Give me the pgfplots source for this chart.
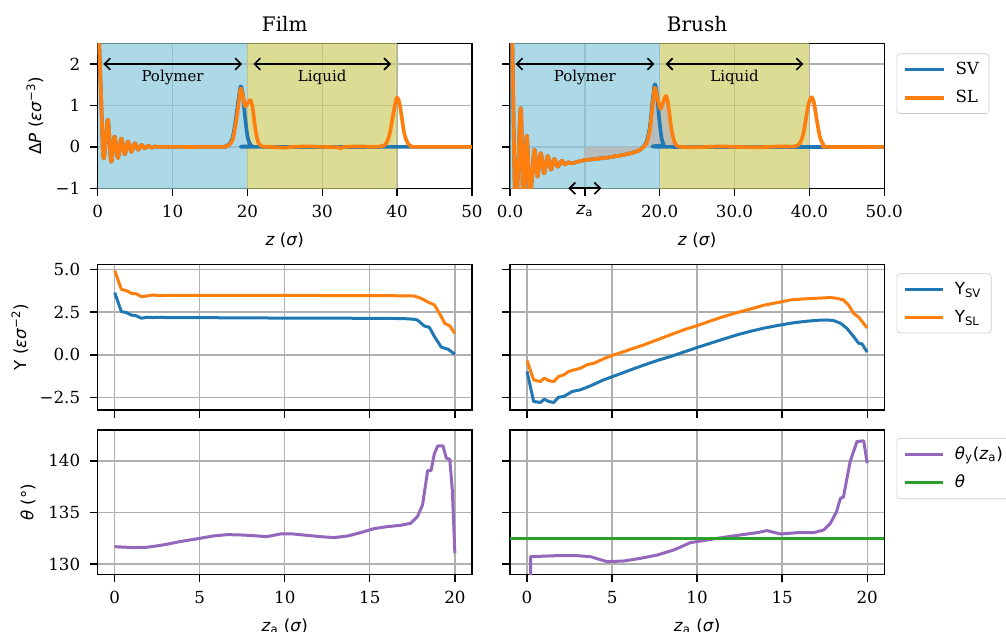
\documentclass[border=0pt]{standalone}
\usepackage{fontspec}
\setmainfont{DejaVu Serif}
\newfontfamily\sans{DejaVu Sans}
\usepackage{pgfplots}
\pgfplotsset{compat=1.18}
\usetikzlibrary{arrows.meta}
\definecolor{tblue}{HTML}{1F77B4}
\definecolor{torange}{HTML}{FF7F0E}
\definecolor{tpurple}{HTML}{9467BD}
\definecolor{tgreen}{HTML}{2CA02C}
\definecolor{lblue}{RGB}{138,199,219}
\definecolor{olivefill}{RGB}{205,205,104}
\definecolor{greyfill}{RGB}{185,185,185}
\definecolor{gridc}{HTML}{B0B0B0}
\definecolor{legc}{HTML}{CCCCCC}
\tikzset{arr/.style={{Straight Barb[length=3.5pt,width=7pt]}-{Straight Barb[length=3.5pt,width=7pt]}, line width=1pt, black}}
\pgfplotsset{
  base/.style={
    scale only axis, width=224.5pt,
    axis line style={line width=0.8pt},
    every tick/.style={black, line width=0.8pt},
    major tick length=4.6pt,
    tick align=outside, tick pos=left,
    grid=major, major grid style={color=gridc, line width=0.8pt},
    ticklabel style={font=\fontsize{10}{12}\selectfont},
    yticklabel style={xshift=-2.4pt},
    xticklabel style={yshift=-2pt},
    label style={font=\fontsize{10}{12}\selectfont},
    xlabel shift=2pt,
    title style={font=\fontsize{12}{14}\selectfont, anchor=base, yshift=1pt},
    /pgf/number format/assume math mode=true,
    clip mode=individual,
    every axis plot/.append style={line join=round},
    legend cell align=left,
    legend style={anchor=north west, draw=legc, rounded corners=2pt, fill=white,
      font=\fontsize{10}{12}\selectfont, row sep=4pt, inner xsep=4pt, inner ysep=3pt},
    legend image code/.code={\draw[#1] (0pt,0pt) -- (23pt,0pt); \path (27pt,0pt);},
  },
  bgfill/.style={fill=#1, fill opacity=0.7, draw=none, forget plot},
  ylab/.style={ylabel style={at={(axis description cs:#1,0.5)}, anchor=center}},
}
\begin{document}
\begin{tikzpicture}
\path[use as bounding box] (0,0) rectangle (603.6pt,378.6pt);
% ---------------- Film top
\begin{axis}[base, at={(58.62pt,265.62pt)}, anchor=south west, height=87pt,
  xmin=0, xmax=50, ymin=-1, ymax=2.5,
  xtick={0,10,20,30,40,50},
  ytick={-1,0,1,2}, yticklabels={−1,0,1,2},
  title={Film},
  xlabel={{\sans\textit{z} (\textit{σ})}},
  ylabel={{\sans Δ\textit{P} (\textit{εσ}\textsuperscript{−3})}}, ylab=-0.168,
]
\addplot[bgfill=lblue] coordinates {(0,-2) (0,3) (20,3) (20,-2)};
\addplot[bgfill=olivefill] coordinates {(20,-2) (20,3) (40,3) (40,-2)};
\addplot[tblue, line width=2.2pt, smooth, tension=0.5] coordinates {
(0,5) (0.1,3.2) (0.45,1.2) (0.8,-0.28) (1.35,0.66) (1.8,-0.36) (2.25,0.25) (2.7,-0.27) (3.15,0.2) (3.6,-0.18) (4.05,0.13) (4.5,-0.12) (4.95,0.09) (5.4,-0.07) (5.85,0.05) (6.3,-0.04) (6.75,0.03) (7.2,-0.02) (7.7,0.01) (8.2,0)
(16.5,0) (17,0.01) (17.5,0.05) (18,0.2) (18.4,0.6) (18.8,1.12) (19.1,1.46) (19.4,1.25) (19.7,0.7) (20.0,0.28) (20.3,0.08) (20.6,0.02) (21,0) (50,0)};
\addplot[torange, line width=2.2pt, smooth, tension=0.5] coordinates {
(0,5) (0.1,3.2) (0.45,1.2) (0.8,-0.28) (1.35,0.66) (1.8,-0.36) (2.25,0.25) (2.7,-0.27) (3.15,0.2) (3.6,-0.18) (4.05,0.13) (4.5,-0.12) (4.95,0.09) (5.4,-0.07) (5.85,0.05) (6.3,-0.04) (6.75,0.03) (7.2,-0.02) (7.7,0.01) (8.2,0)
(16.5,0) (17,0.01) (17.5,0.04) (18,0.15) (18.4,0.5) (18.8,1.0) (19.1,1.41) (19.4,1.22) (19.7,0.98) (20.0,1.05) (20.4,1.13) (20.7,0.95) (21.0,0.52) (21.3,0.2) (21.6,0.06) (22.0,0.01) (23,0) (24,-0.01) (25,-0.02) (26,0) (28,0.01) (30,0) (32,-0.01) (32.5,-0.03) (33,0) (35,0.01) (37,0) (38,0.02) (38.5,0.07) (39,0.3) (39.5,0.8) (39.8,1.08) (40.0,1.19) (40.3,1.08) (40.6,0.75) (41,0.3) (41.5,0.07) (42,0.01) (42.5,0) (50,0)};
\draw[arr] (axis cs:0.75,2) -- (axis cs:19.3,2);
\draw[arr] (axis cs:20.8,2) -- (axis cs:39.2,2);
\node[anchor=base, font=\fontsize{9}{11}\selectfont] at (axis cs:10,1.58) {Polymer};
\node[anchor=base, font=\fontsize{9}{11}\selectfont] at (axis cs:30,1.58) {Liquid};
\end{axis}
% ---------------- Brush top
\begin{axis}[base, at={(306pt,265.62pt)}, anchor=south west, height=87pt,
  xmin=0, xmax=50, ymin=-1, ymax=2.5,
  xtick={0,10,20,30,40,50},
  xticklabels={0.0,{\sans\textit{z}\textsubscript{a}},20.0,30.0,40.0,50.0},
  ytick={-1,0,1,2}, yticklabels={},
  title={Brush},
  xlabel={{\sans\textit{z} (\textit{σ})}},
  legend style={at={(1.033,0.93)}},
]
\addplot[bgfill=lblue] coordinates {(0,-2) (0,3) (20,3) (20,-2)};
\addplot[bgfill=olivefill] coordinates {(20,-2) (20,3) (40,3) (40,-2)};
\addplot[fill=greyfill, fill opacity=0.85, draw=none, forget plot, smooth, tension=0.5] coordinates {
(10,0) (10,-0.32) (11,-0.30) (12,-0.28) (13,-0.26) (14,-0.23) (15,-0.2) (16,-0.16) (16.8,-0.12) (17.4,-0.07) (17.9,0.02) (18.3,0.15) (18.7,0.5) (19.05,1.1) (19.35,1.51) (19.65,1.25) (19.95,0.95) (20.1,0.92) (20.5,1.1) (20.9,1.23) (21.25,0.88) (21.6,0.4) (21.95,0.13) (22.3,0.03) (22.8,0)};
\addplot[tblue, line width=2.2pt, smooth, tension=0.5] coordinates {
(0,6) (0.31,2.5) (0.76,-1.6) (1.43,0.94) (1.78,-1.5) (2.23,0.27) (2.67,-1.2) (3.25,-0.07) (3.65,-0.72) (4.1,-0.15) (4.54,-0.64) (5.03,-0.22) (5.48,-0.55) (5.92,-0.29) (6.37,-0.48) (6.9,-0.33) (7.3,-0.43) (7.75,-0.37) (8.2,-0.40) (9,-0.36) (10,-0.32) (11,-0.30) (12,-0.28) (13,-0.26) (14,-0.23) (15,-0.2) (16,-0.16) (16.8,-0.12) (17.4,-0.07)
(17.9,0.02) (18.3,0.15) (18.7,0.5) (19.05,1.1) (19.35,1.51) (19.65,1.25) (19.95,0.65) (20.25,0.22) (20.55,0.05) (20.9,0) (50,0)};
\addlegendentry{SV}
\addplot[torange, line width=2.2pt, smooth, tension=0.5] coordinates {
(0,6) (0.31,2.5) (0.76,-1.6) (1.43,0.94) (1.78,-1.5) (2.23,0.27) (2.67,-1.2) (3.25,-0.07) (3.65,-0.72) (4.1,-0.15) (4.54,-0.64) (5.03,-0.22) (5.48,-0.55) (5.92,-0.29) (6.37,-0.48) (6.9,-0.33) (7.3,-0.43) (7.75,-0.37) (8.2,-0.40) (9,-0.36) (10,-0.32) (11,-0.30) (12,-0.28) (13,-0.26) (14,-0.23) (15,-0.2) (16,-0.16) (16.8,-0.12) (17.4,-0.07)
(17.9,0.01) (18.3,0.12) (18.7,0.42) (19.05,1.0) (19.35,1.43) (19.7,1.18) (20.1,0.92) (20.5,1.1) (20.9,1.23) (21.25,0.88) (21.6,0.4) (21.95,0.13) (22.3,0.03) (22.8,0) (25,-0.01) (28,0.01) (30,0) (33,-0.01) (36,0.01) (38,0.01) (38.7,0.08) (39.2,0.32) (39.7,0.85) (40.0,1.1) (40.3,1.2) (40.6,1.08) (40.95,0.7) (41.4,0.25) (41.9,0.05) (42.4,0) (50,0)};
\addlegendentry{SL}
\draw[arr] (axis cs:0.75,2) -- (axis cs:19.3,2);
\draw[arr] (axis cs:20.8,2) -- (axis cs:39.2,2);
\draw[arr] (axis cs:7.8,-1) -- (axis cs:12.2,-1);
\node[anchor=base, font=\fontsize{9}{11}\selectfont] at (axis cs:10,1.58) {Polymer};
\node[anchor=base, font=\fontsize{9}{11}\selectfont] at (axis cs:30,1.58) {Liquid};
\end{axis}
% ---------------- Film middle
\begin{axis}[base, at={(58.62pt,132.6pt)}, anchor=south west, height=87.4pt,
  xmin=-1, xmax=21, ymin=-3.22, ymax=5.29,
  xtick={0,5,10,15,20}, xticklabels={},
  ytick={-2.5,0,2.5,5}, yticklabels={−2.5,0.0,2.5,5.0},
  ylabel={{\sans Y (\textit{εσ}\textsuperscript{−2})}}, ylab=-0.208,
]
\addplot[tblue, line width=1.8pt] coordinates {
(0,3.64) (0.39,2.53) (0.69,2.47) (0.98,2.33) (1.28,2.28) (1.57,2.14) (1.87,2.2) (2.26,2.18) (2.7,2.2) (3.2,2.17) (4,2.18) (6,2.17) (8,2.16) (10,2.15) (12,2.15) (14,2.14) (16,2.13) (17,2.12) (17.5,2.09) (17.8,2.04) (18.2,1.69) (18.5,1.61) (18.8,1.07) (19.2,0.45) (19.6,0.33) (20,0.04)};
\addplot[torange, line width=1.8pt] coordinates {
(0,4.92) (0.39,3.83) (0.69,3.75) (0.98,3.6) (1.28,3.56) (1.57,3.4) (1.87,3.44) (2.26,3.5) (2.7,3.46) (3.2,3.48) (4,3.47) (6,3.47) (8,3.47) (10,3.47) (12,3.47) (14,3.46) (16,3.46) (17,3.45) (17.6,3.44) (18.0,3.31) (18.5,3.05) (18.8,2.92) (19.2,2.24) (19.4,1.85) (19.7,1.69) (20,1.26)};
\end{axis}
% ---------------- Brush middle
\begin{axis}[base, at={(306pt,132.6pt)}, anchor=south west, height=87.4pt,
  xmin=-1, xmax=21, ymin=-3.22, ymax=5.29,
  xtick={0,5,10,15,20}, xticklabels={},
  ytick={-2.5,0,2.5,5}, yticklabels={},
  legend style={at={(1.033,0.938)}},
]
\addplot[tblue, line width=1.8pt] coordinates {
(0,-0.97) (0.39,-2.72) (0.78,-2.78) (1.02,-2.59) (1.27,-2.72) (1.57,-2.78) (1.86,-2.47) (2.16,-2.43) (2.65,-2.14) (3.14,-2.04) (3.73,-1.81) (4.5,-1.46) (5.3,-1.17) (6.08,-0.88) (6.86,-0.6) (7.65,-0.33) (8.43,-0.1) (9.2,0.16) (10.0,0.43) (10.78,0.68) (11.57,0.93) (12.35,1.17) (13.14,1.38) (13.92,1.56) (14.7,1.71) (15.5,1.85) (16.27,1.95) (17.06,2.02) (17.65,2.04) (18.04,2.0) (18.43,1.85) (18.8,1.56) (19.2,1.07) (19.5,0.68) (19.7,0.64) (20.0,0.16)};
\addlegendentry{{\sans Y\textsubscript{SV}}}
\addplot[torange, line width=1.8pt] coordinates {
(0,-0.33) (0.39,-1.46) (0.78,-1.56) (1.02,-1.36) (1.27,-1.5) (1.57,-1.56) (1.86,-1.26) (2.16,-1.17) (2.45,-0.97) (2.75,-0.88) (3.14,-0.78) (3.53,-0.58) (3.92,-0.49) (4.6,-0.19) (5.1,0.0) (5.69,0.19) (6.27,0.39) (6.86,0.58) (7.65,0.88) (8.43,1.17) (9.2,1.46) (10.0,1.71) (10.78,1.98) (11.57,2.24) (12.35,2.47) (13.14,2.68) (13.92,2.9) (14.7,3.05) (15.5,3.21) (16.27,3.27) (17.06,3.31) (17.84,3.35) (18.2,3.31) (18.6,3.21) (18.9,2.92) (19.2,2.43) (19.5,2.2) (19.7,1.95) (20.0,1.57)};
\addlegendentry{{\sans Y\textsubscript{SL}}}
\end{axis}
% ---------------- Film bottom
\begin{axis}[base, at={(58.62pt,34.02pt)}, anchor=south west, height=86.6pt,
  xmin=-1, xmax=21, ymin=129.0, ymax=143.0,
  xtick={0,5,10,15,20},
  ytick={130,135,140},
  xlabel={{\sans\textit{z}\textsubscript{a} (\textit{σ})}},
  ylabel={{\sans\textit{θ} (°)}}, ylab=-0.186,
]
\addplot[tpurple, line width=1.8pt] coordinates {
(0,131.68) (1.08,131.59) (1.87,131.62) (2.46,131.75) (3.05,131.91) (3.83,132.17) (5.0,132.49) (5.8,132.72) (6.6,132.85) (7.37,132.82) (8.16,132.75) (8.94,132.65) (9.73,132.91) (10.5,132.91) (11.3,132.78) (12.1,132.65) (12.9,132.56) (13.7,132.72) (14.45,133.04) (15.24,133.43) (16.0,133.62) (16.8,133.75) (17.4,133.95) (17.8,134.6) (18.1,135.73) (18.4,139.06) (18.6,139.06) (18.8,140.74) (19.0,141.46) (19.3,141.46) (19.5,140.26) (19.7,140.16) (19.85,137.18) (20.0,131.04)};
\end{axis}
% ---------------- Brush bottom
\begin{axis}[base, at={(306pt,34.02pt)}, anchor=south west, height=86.6pt,
  xmin=-1, xmax=21, ymin=129.0, ymax=143.0,
  xtick={0,5,10,15,20},
  ytick={130,135,140}, yticklabels={},
  xlabel={{\sans\textit{z}\textsubscript{a} (\textit{σ})}},
  legend style={at={(1.033,0.945)}},
]
\addplot[tpurple, line width=1.8pt] coordinates {
(0.2,120) (0.21,130.71) (1.76,130.81) (2.94,130.81) (3.73,130.71) (4.7,130.23) (5.69,130.29) (6.67,130.55) (7.65,130.87) (8.63,131.36) (9.6,132.07) (10.59,132.33) (11.57,132.59) (12.55,132.82) (13.53,133.04) (14.1,133.24) (14.9,132.91) (15.9,133.04) (16.86,133.04) (17.45,133.3) (17.84,133.95) (18.2,135.08) (18.43,136.38) (18.6,136.47) (19.0,139.94) (19.4,141.88) (19.8,141.94) (20,139.77)};
\addlegendentry{{\sans\textit{θ}\textsubscript{y}(\textit{z}\textsubscript{a})}}
\addplot[tgreen, line width=1.8pt] coordinates {(-1,132.49) (21,132.49)};
\addlegendentry{{\sans\textit{θ}}}
\end{axis}
\end{tikzpicture}
\end{document}
